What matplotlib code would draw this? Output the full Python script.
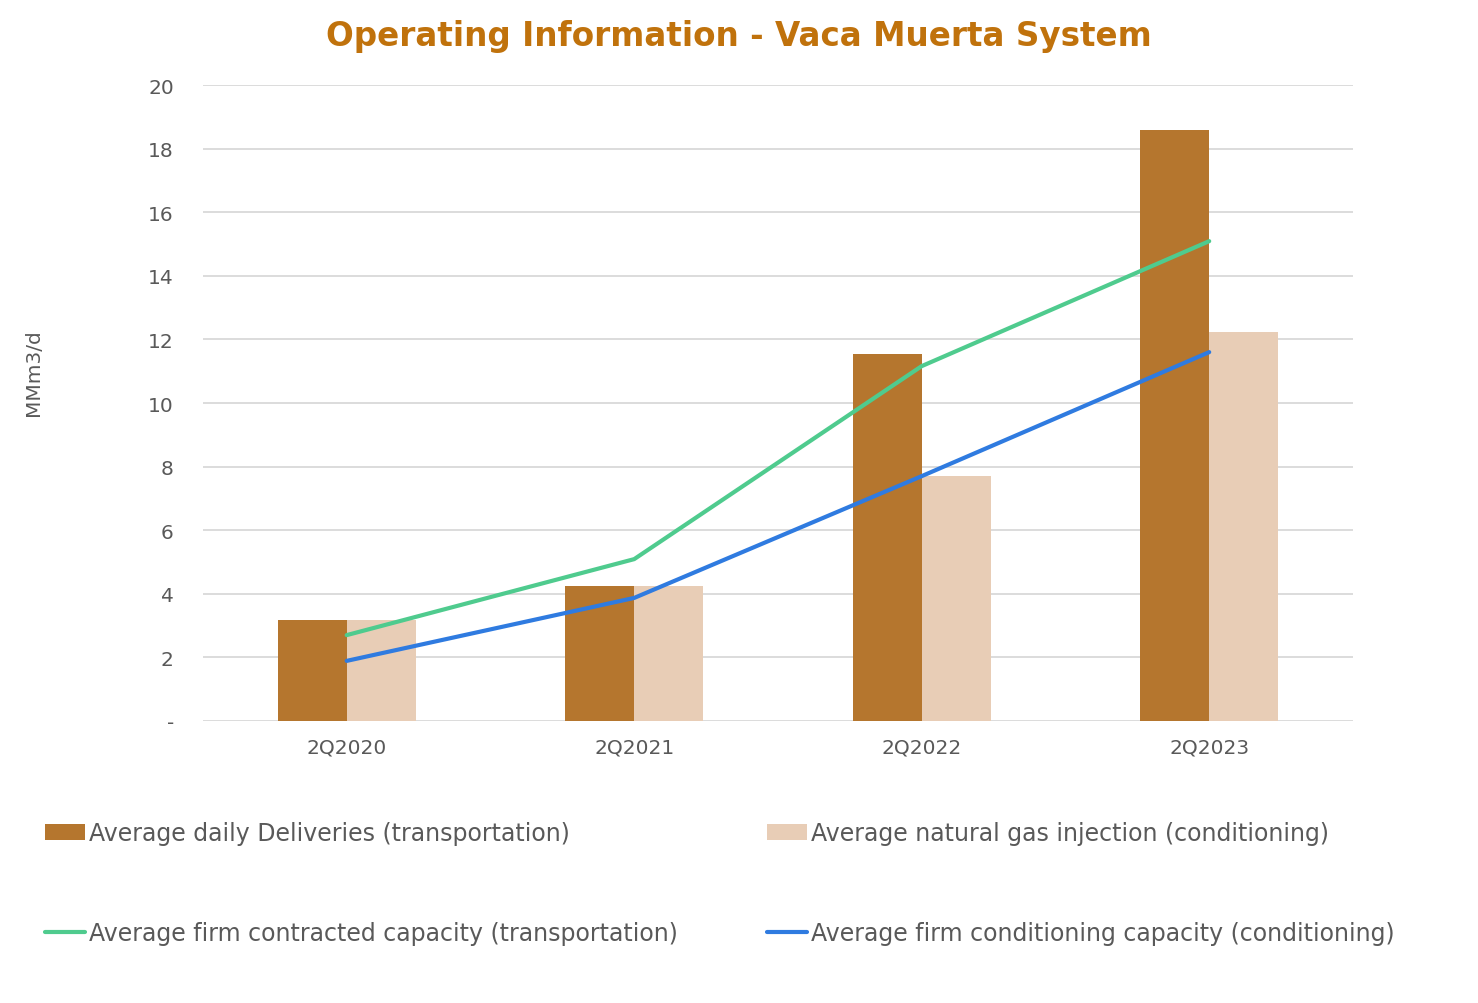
import numpy as np
import matplotlib.pyplot as plt

quarters = ["2Q2020", "2Q2021", "2Q2022", "2Q2023"]
deliveries = [3.18, 4.25, 11.54, 18.58]
injection = [3.18, 4.25, 7.70, 12.23]
firm_contracted = [2.70, 5.09, 11.16, 15.09]
firm_conditioning = [1.89, 3.87, 7.70, 11.60]

yticks = [0, 2, 4, 6, 8, 10, 12, 14, 16, 18, 20]
ytick_labels = ["-", "2", "4", "6", "8", "10", "12", "14", "16", "18", "20"]

c_dark = "#B5762E"
c_light = "#E8CDB6"
c_green = "#4FCB8E"
c_blue = "#2F7BE0"
c_text = "#595959"

fig = plt.figure(figsize=(14.78, 10.04), dpi=100)
ax = fig.add_axes([0.1373, 0.2809, 0.7781, 0.6334])

x = np.arange(len(quarters))
w = 0.24
b1 = ax.bar(x - w / 2, deliveries, w, color=c_dark, zorder=2,
            label="Average daily Deliveries (transportation)")
b2 = ax.bar(x + w / 2, injection, w, color=c_light, zorder=2,
            label="Average natural gas injection (conditioning)")
l1, = ax.plot(x, firm_contracted, color=c_green, lw=3, zorder=3,
              solid_capstyle="round",
              label="Average firm contracted capacity (transportation)")
l2, = ax.plot(x, firm_conditioning, color=c_blue, lw=3, zorder=3,
              solid_capstyle="round",
              label="Average firm conditioning capacity (conditioning)")

ax.set_xlim(-0.5, 3.5)
ax.set_ylim(0, 20)
ax.set_xticks(x)
ax.set_xticklabels(quarters)
ax.set_yticks(yticks)
ax.set_yticklabels(ytick_labels)
ax.tick_params(axis="both", length=0, labelsize=14.5, colors=c_text)
ax.tick_params(axis="x", pad=12)
ax.tick_params(axis="y", pad=21)
ax.grid(axis="y", color="#D9D9D9", lw=1.3, zorder=0)
for s in ax.spines.values():
    s.set_visible(False)

ax.set_ylabel("MMm3/d", fontsize=14.5, color=c_text)
ax.yaxis.set_label_coords(-0.139, 0.55)

fig.text(0.5, 0.9635, "Operating Information - Vaca Muerta System",
         fontsize=23.5, fontweight="bold", color="#C0720C",
         ha="center", va="center")

fig.legend([b1, l1, b2, l2],
           [b1.get_label(), l1.get_label(), b2.get_label(), l2.get_label()],
           ncol=2, loc="upper left", bbox_to_anchor=(0.0225, 0.193),
           frameon=False, fontsize=17, labelcolor=c_text,
           handlelength=1.7, handletextpad=0.15, labelspacing=3.22,
           columnspacing=3.8, borderpad=0)

fig.savefig("out.png", dpi=100)
